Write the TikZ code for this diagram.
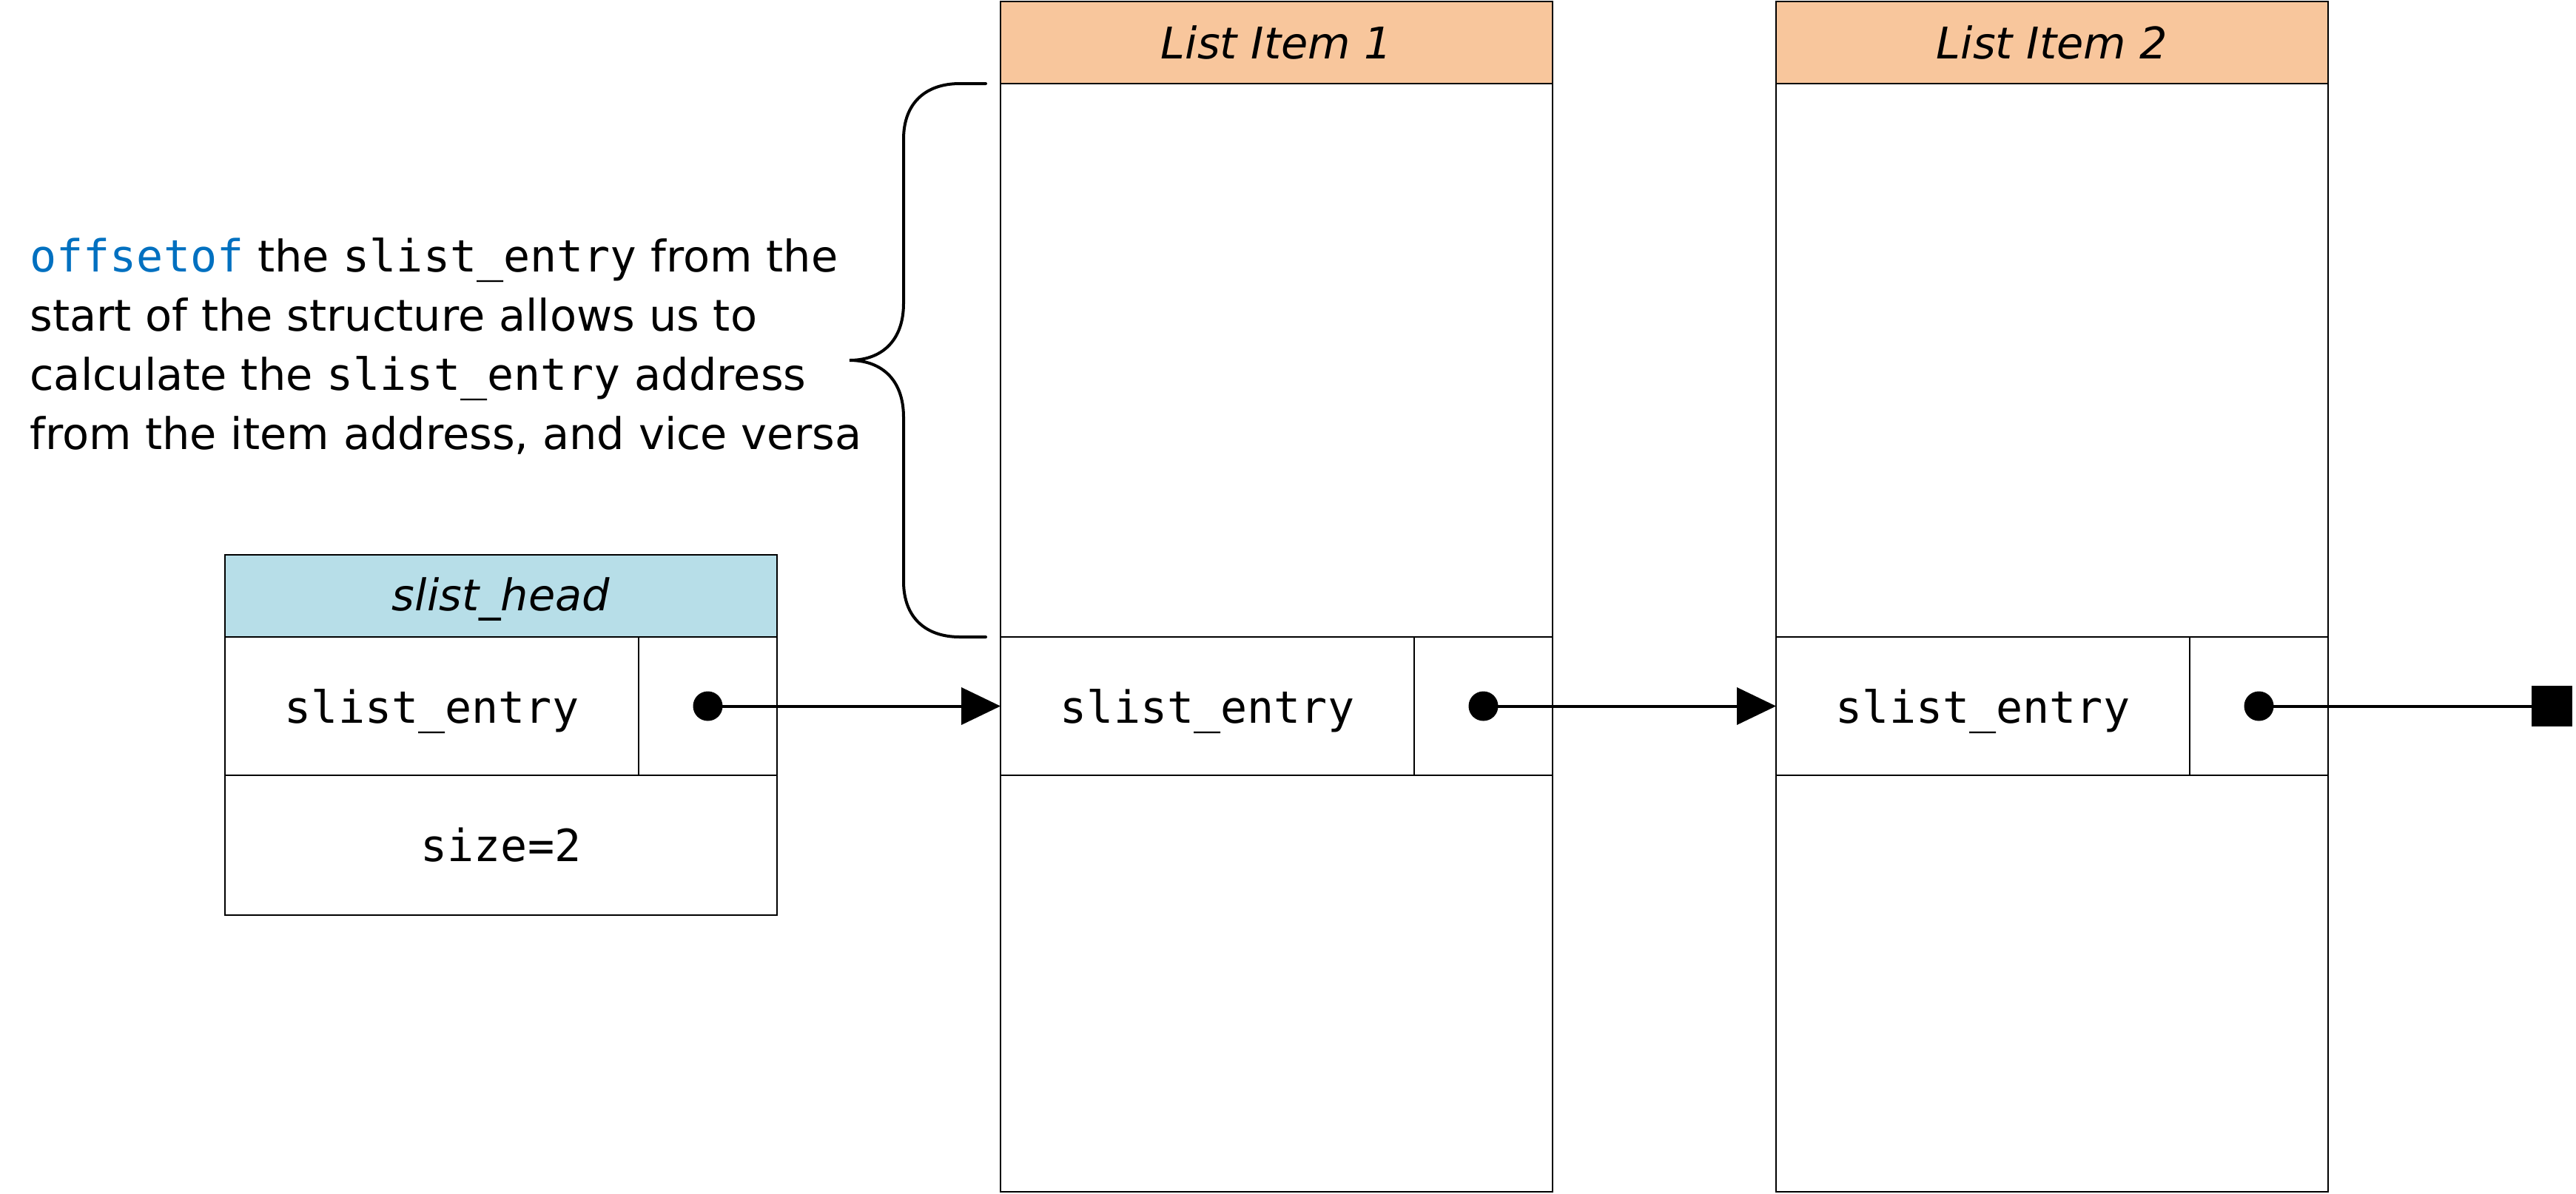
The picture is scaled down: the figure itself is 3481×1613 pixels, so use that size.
\documentclass[tikz,border=0pt]{standalone}
\usepackage{fontspec}
\setmainfont{DejaVu Sans}
\setsansfont{DejaVu Sans}
\setmonofont{DejaVu Sans Mono}
\usetikzlibrary{arrows.meta}
\definecolor{hdrorange}{HTML}{F8C69C}
\definecolor{hdrblue}{HTML}{B7DEE8}
\definecolor{kwblue}{HTML}{0070C0}
\tikzset{
  cell/.style={draw, line width=1pt, inner sep=0pt, outer sep=0pt, anchor=north west,
    font=\fontsize{30}{36}\selectfont\ttfamily},
  entrycell/.style={cell, text height=28pt, text depth=5pt},
  title/.style={cell, font=\fontsize{29.5}{36}\selectfont\itshape},
  dotnode/.style={circle, fill=black, inner sep=0pt, minimum size=20pt},
  termnode/.style={rectangle, fill=black, inner sep=0pt, minimum size=27.5pt},
  ptr/.style={line width=2pt, -{Triangle[length=26.5pt, width=25pt]}},
  ptrend/.style={line width=2pt},
  bracestyle/.style={line width=2pt, line cap=round},
  note/.style={align=left, anchor=north west, inner sep=0pt,
    font=\fontsize{29.5}{40}\selectfont}
}
\newcommand{\code}[1]{{\fontsize{30}{40}\selectfont\ttfamily #1}}
\begin{document}
\begin{tikzpicture}[x=0.5pt, y=-0.5pt]
\useasboundingbox (0,0) rectangle (3481,1613);

% slist_head
\node[title, fill=hdrblue, minimum width=373pt, minimum height=55.5pt, text height=27pt, text depth=7pt] (htitle) at (304,750) {slist\_head};
\node[entrycell, minimum width=279.5pt, minimum height=93.5pt] (hentry) at (304,861) {slist\_entry};
\node[cell, minimum width=93.5pt, minimum height=93.5pt] (hptr) at (863,861) {};
\node[cell, minimum width=373pt, minimum height=94.5pt] (hsize) at (304,1048) {size=2};

% List Item 1
\node[title, fill=hdrorange, minimum width=373pt, minimum height=55.5pt] (i1title) at (1352,2) {List Item 1};
\node[cell, minimum width=373pt, minimum height=374pt] (i1body) at (1352,113) {};
\node[entrycell, minimum width=279.5pt, minimum height=93.5pt] (i1entry) at (1352,861) {slist\_entry};
\node[cell, minimum width=93.5pt, minimum height=93.5pt] (i1ptr) at (1911,861) {};
\node[cell, minimum width=373pt, minimum height=281.5pt] (i1rest) at (1352,1048) {};

% List Item 2
\node[title, fill=hdrorange, minimum width=373pt, minimum height=55.5pt] (i2title) at (2400,2) {List Item 2};
\node[cell, minimum width=373pt, minimum height=374pt] (i2body) at (2400,113) {};
\node[entrycell, minimum width=279.5pt, minimum height=93.5pt] (i2entry) at (2400,861) {slist\_entry};
\node[cell, minimum width=93.5pt, minimum height=93.5pt] (i2ptr) at (2959,861) {};
\node[cell, minimum width=373pt, minimum height=281.5pt] (i2rest) at (2400,1048) {};

% pointers
\node[dotnode] (d0) at (hptr.center) {};
\node[dotnode] (d1) at (i1ptr.center) {};
\node[dotnode] (d2) at (i2ptr.center) {};
\node[termnode] (term) at (3448,954.5) {};
\draw[ptr] (d0.center) -- (i1entry.west);
\draw[ptr] (d1.center) -- (i2entry.west);
\draw[ptrend] (d2.center) -- (term.center);

% brace
\draw[bracestyle] (1332,113) -- (1297,113)
  .. controls (1250,113) and (1221,140) .. (1221,188) -- (1221,410)
  .. controls (1221,462) and (1190,487) .. (1148,487)
  .. controls (1190,487) and (1221,512) .. (1221,564) -- (1221,786)
  .. controls (1221,834) and (1250,861) .. (1297,861) -- (1332,861);

% note
\node[note] (note) at (40,321) {{\color{kwblue}\code{offsetof}} the \code{slist\_entry} from the\\
start of the structure allows us to\\
calculate the \code{slist\_entry} address\\
from the item address, and vice versa};
\end{tikzpicture}
\end{document}
